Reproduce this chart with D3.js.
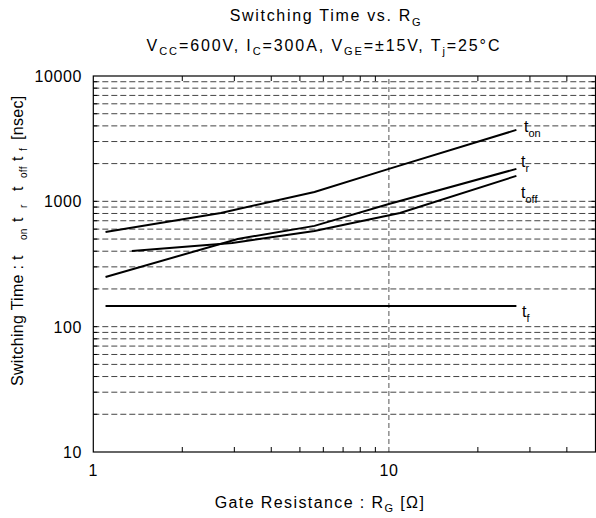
<!DOCTYPE html>
<html>
  <head>
    <meta charset="utf-8">
    <style>
      body { margin: 0; background: #fff; }
      text { font-family: "Liberation Sans", Arial, sans-serif; fill: #000; }
    </style>
    <title>Switching Time vs. RG</title>
  </head>
  <body>

  <div id="viz-wrapper"></div>

  <script src="https://cdnjs.cloudflare.com/ajax/libs/d3/7.8.5/d3.min.js" charset="utf-8"></script>
  <script type="text/javascript">

    // curves: gate resistance [ohm] vs time [nsec]
    var tOnR   = [1.1, 2.7, 5.6, 10, 27];
    var tOnT   = [570, 807, 1188, 1815, 3716];
    var tRR    = [1.1, 3.08, 5.6, 10, 27];
    var tRT    = [249, 501, 637, 952, 1815];
    var tOffR  = [1.35, 2.95, 5.6, 10.9, 27];
    var tOffT  = [402, 466, 580, 807, 1596];
    var tFR    = [1.1, 27];
    var tFT    = [146, 146];

    var yTickLabels = [10, 100, 1000, 10000];
    var xTickLabels = [1, 10];

    var width = 596;
    var height = 518;

    var x = d3.scaleLog().domain([1, 50]).range([93.3, 595.5]);
    var y = d3.scaleLog().domain([10, 10000]).range([452, 76]);

    var svg = d3.select("#viz-wrapper")
                .append('svg')
                .attr('width', width)
                .attr('height', height);

    // horizontal dashed grid at every 1..9 x decade
    var yGrid = [];
    [10, 100, 1000].forEach(function(dec) {
      for (var k = 1; k <= 9; k++) { if (dec * k > 10) yGrid.push(dec * k); }
    });
    svg.selectAll('line.hgrid')
       .data(yGrid)
       .enter().append('line')
       .attr('class', 'hgrid')
       .attr('x1', x.range()[0]).attr('x2', x.range()[1])
       .attr('y1', function(d) { return y(d); })
       .attr('y2', function(d) { return y(d); })
       .style('stroke', '#444')
       .style('stroke-width', 1)
       .style('stroke-dasharray', '6,3');

    // vertical dashed line at 10 ohm
    svg.append('line')
       .attr('x1', x(10)).attr('x2', x(10))
       .attr('y1', y.range()[0]).attr('y2', y.range()[1])
       .style('stroke', '#555')
       .style('stroke-width', 1)
       .style('stroke-dasharray', '5,3');

    // minor ticks, pointing inward
    var xMinor = [];
    [1, 10].forEach(function(dec) {
      for (var k = 2; k <= 9; k++) { if (dec * k < 50) xMinor.push(dec * k); }
    });
    var yb = y.range()[0], yt = y.range()[1];
    var xl = x.range()[0], xr = x.range()[1];

    var ticks = svg.append('g').style('stroke', '#000').style('stroke-width', 1);
    xMinor.forEach(function(v) {
      ticks.append('line').attr('x1', x(v)).attr('x2', x(v)).attr('y1', yb).attr('y2', yb - 5);
      ticks.append('line').attr('x1', x(v)).attr('x2', x(v)).attr('y1', yt).attr('y2', yt + 5);
    });
    yGrid.forEach(function(v) {
      ticks.append('line').attr('x1', xl).attr('x2', xl + 4).attr('y1', y(v)).attr('y2', y(v));
      ticks.append('line').attr('x1', xr).attr('x2', xr - 4).attr('y1', y(v)).attr('y2', y(v));
    });

    // frame
    svg.append('rect')
       .attr('x', xl).attr('y', yt)
       .attr('width', xr - xl).attr('height', yb - yt)
       .style('fill', 'none')
       .style('stroke', '#000')
       .style('stroke-width', 1.2);

    // tick labels
    svg.selectAll('text.ylab')
       .data(yTickLabels)
       .enter().append('text')
       .attr('class', 'ylab')
       .attr('x', 82)
       .attr('y', function(d) { return y(d) + 6; })
       .attr('text-anchor', 'end')
       .style('font-size', '16px')
       .style('letter-spacing', '0.6px')
       .text(function(d) { return d; });

    svg.selectAll('text.xlab')
       .data(xTickLabels)
       .enter().append('text')
       .attr('class', 'xlab')
       .attr('x', function(d) { return x(d); })
       .attr('y', 476)
       .attr('text-anchor', 'middle')
       .style('font-size', '16px')
       .style('letter-spacing', '0.5px')
       .text(function(d) { return d; });

    // curves
    var line = d3.line()
                 .x(function(d) { return x(d[0]); })
                 .y(function(d) { return y(d[1]); });

    var curves = [
      { r: tOnR,  t: tOnT,  name: 'on'  },
      { r: tRR,   t: tRT,   name: 'r'   },
      { r: tOffR, t: tOffT, name: 'off' },
      { r: tFR,   t: tFT,   name: 'f'   }
    ];

    svg.selectAll('path.curve')
       .data(curves)
       .enter().append('path')
       .attr('class', 'curve')
       .attr('d', function(c) { return line(d3.zip(c.r, c.t)); })
       .style('fill', 'none')
       .style('stroke', '#000')
       .style('stroke-width', 2);

    // curve labels
    var labelPos = { on: [524, 132], r: [521, 167], off: [521, 198], f: [522, 317] };
    curves.forEach(function(c) {
      var p = labelPos[c.name];
      var t = svg.append('text').attr('x', p[0]).attr('y', p[1]).style('font-size', '16px');
      t.append('tspan').text('t');
      t.append('tspan').attr('dy', 5).style('font-size', '11px').text(c.name);
    });

    // titles
    var t1 = svg.append('text')
                .attr('x', 326).attr('y', 21)
                .attr('text-anchor', 'middle')
                .style('font-size', '16px')
                .style('letter-spacing', '1.7px');
    t1.append('tspan').text('Switching Time vs. R');
    t1.append('tspan').attr('dy', 5).style('font-size', '11px').text('G');

    var t2 = svg.append('text')
                .attr('x', 324).attr('y', 51)
                .attr('text-anchor', 'middle')
                .style('font-size', '16px')
                .style('letter-spacing', '1.9px');
    var parts = [['V', 'CC', '=600V, I'], ['', 'C', '=300A, V'], ['', 'GE', '=\u00b115V, T'], ['', 'j', '=25\u00b0C']];
    parts.forEach(function(p) {
      if (p[0]) t2.append('tspan').text(p[0]);
      t2.append('tspan').attr('dy', 4).style('font-size', '11px').text(p[1]);
      t2.append('tspan').attr('dy', -4).text(p[2]);
    });

    var xt = svg.append('text')
                .attr('x', 320).attr('y', 508)
                .attr('text-anchor', 'middle')
                .style('font-size', '16px')
                .style('letter-spacing', '1.4px');
    xt.append('tspan').text('Gate Resistance : R');
    xt.append('tspan').attr('dy', 4).style('font-size', '11px').text('G');
    xt.append('tspan').attr('dy', -4).text(' [\u03a9]');

    // y title: pieces placed along the rotated baseline
    var yPieces = [
      { s: 'Switching Time : t', at: 0,   sub: false },
      { s: 'on',                 at: 146, sub: true  },
      { s: 't',                  at: 164, sub: false },
      { s: 'r',                  at: 178, sub: true  },
      { s: 't',                  at: 195, sub: false },
      { s: 'off',                at: 208, sub: true  },
      { s: 't',                  at: 225, sub: false },
      { s: 'f',                  at: 235, sub: true  },
      { s: '[nsec]',             at: 246, sub: false }
    ];
    var yl = svg.append('g').attr('transform', 'translate(23,386) rotate(-90)');
    yl.selectAll('text')
      .data(yPieces)
      .enter().append('text')
      .attr('x', function(d) { return d.at; })
      .attr('y', function(d) { return d.sub ? 4 : 0; })
      .style('font-size', function(d) { return d.sub ? '10px' : '16px'; })
      .style('letter-spacing', '0.3px')
      .text(function(d) { return d.s; });

  </script>
  </body>
</html>
